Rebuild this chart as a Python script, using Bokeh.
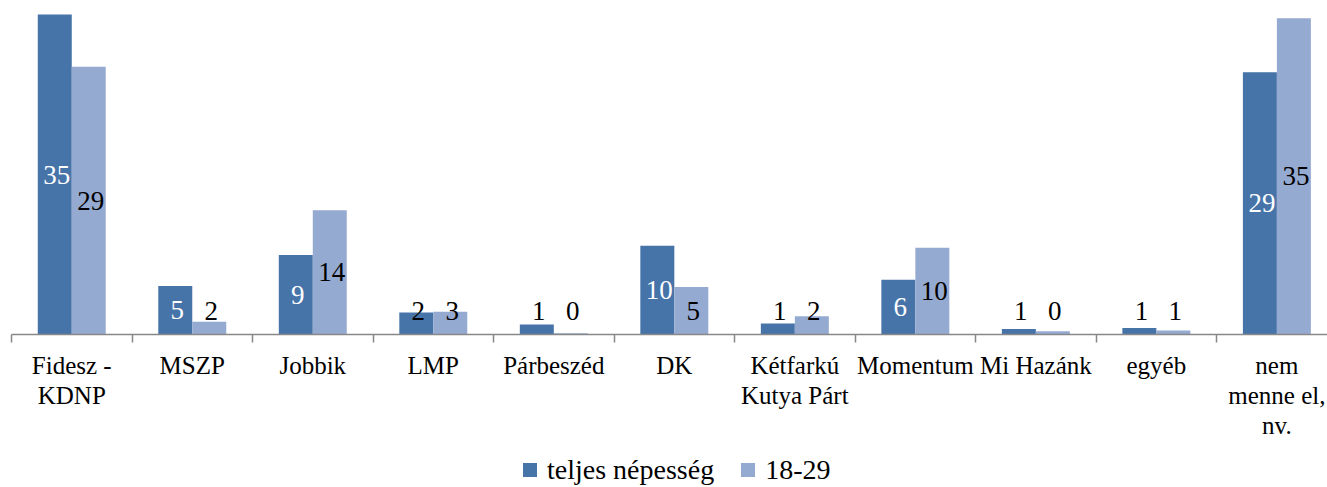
from bokeh.plotting import figure
from bokeh.layouts import column
from bokeh.models import (ColumnDataSource, Range1d, FixedTicker, Legend, LegendItem,
                          CustomJSTickFormatter)
from bokeh.core.properties import value
from bokeh.embed import file_html
from bokeh.resources import INLINE

categories = ["Fidesz -\nKDNP", "MSZP", "Jobbik", "LMP", "Párbeszéd", "DK",
              "Kétfarkú\nKutya Párt", "Momentum", "Mi Hazánk", "egyéb",
              "nem\nmenne el,\nnv."]
series_names = ["teljes népesség", "18-29"]
teljes = [35.0, 5.3, 8.7, 2.4, 1.1, 9.7, 1.2, 6.0, 0.6, 0.7, 28.7]
fiatal = [29.3, 1.4, 13.6, 2.5, 0.15, 5.2, 2.0, 9.5, 0.35, 0.45, 34.6]
teljes_labels = ["35", "5", "9", "2", "1", "10", "1", "6", "1", "1", "29"]
fiatal_labels = ["29", "2", "14", "3", "0", "5", "2", "10", "0", "1", "35"]

DARK = "#4673A8"
LIGHT = "#95AAD0"
FONT = "'Liberation Serif', 'DejaVu Serif', serif"
BW = 0.282
MIN_LABEL = 2.55

n = len(categories)
centers = [i + 0.5 for i in range(n)]
bounds = [float(i) for i in range(n + 1)]

p = figure(frame_width=1316, frame_height=326, x_range=Range1d(0, 10.92),
           y_range=Range1d(0, 35.66), y_axis_location=None,
           output_backend="svg", toolbar_location=None,
           min_border=0, min_border_left=11, min_border_top=8,
           min_border_bottom=118)
p.xgrid.visible = False
p.ygrid.visible = False
p.outline_line_color = None

xd = [c - BW / 2 for c in centers]
xl = [c + BW / 2 for c in centers]
src = ColumnDataSource(dict(xd=xd, xl=xl, teljes=teljes, fiatal=fiatal))
r1 = p.vbar(x="xd", top="teljes", width=BW, bottom=0, source=src,
            fill_color=DARK, line_color=None)
r2 = p.vbar(x="xl", top="fiatal", width=BW, bottom=0, source=src,
            fill_color=LIGHT, line_color=None)

lab = ColumnDataSource(dict(
    x=xd + xl,
    y=[max(v / 2, MIN_LABEL) for v in teljes] + [max(v / 2, MIN_LABEL) for v in fiatal],
    text=teljes_labels + fiatal_labels,
    color=["white" if v / 2 >= MIN_LABEL else "black" for v in teljes] + ["black"] * n,
))
p.text(x="x", y="y", text="text", source=lab, text_color="color",
       text_font=value(FONT), text_font_size="27px", text_align="center",
       text_baseline="middle", x_offset=2)

ax = p.xaxis[0]
ax.ticker = FixedTicker(ticks=centers, minor_ticks=bounds)
ax.formatter = CustomJSTickFormatter(args=dict(labels=categories),
                                     code="return labels[Math.floor(tick)];")
ax.major_tick_line_color = None
ax.major_tick_out = 0
ax.major_tick_in = 0
ax.minor_tick_line_color = "#888888"
ax.minor_tick_line_width = 1.5
ax.minor_tick_out = 8
ax.minor_tick_in = 0
ax.axis_line_color = "#888888"
ax.axis_line_width = 1.5
ax.major_label_text_font = FONT
ax.major_label_text_font_size = "25px"
ax.major_label_text_line_height = 1.12
ax.major_label_text_color = "black"
ax.major_label_standoff = 9

# legend strip below the chart (hidden copies of the same series)
p2 = figure(width=1327, height=35, x_range=Range1d(0, 1), y_range=Range1d(0, 1),
            x_axis_location=None, y_axis_location=None,
            output_backend="svg", toolbar_location=None, min_border=0)
p2.xgrid.visible = False
p2.ygrid.visible = False
p2.outline_line_color = None
h1 = p2.scatter(x="xd", y="teljes", marker="square", size=14, source=src,
                fill_color=DARK, line_color=None, visible=False)
h2 = p2.scatter(x="xl", y="fiatal", marker="square", size=14, source=src,
                fill_color=LIGHT, line_color=None, visible=False)
legend = Legend(items=[LegendItem(label=series_names[0], renderers=[h1]),
                       LegendItem(label=series_names[1], renderers=[h2])],
                orientation="horizontal", location=(501, 0),
                label_text_font=FONT, label_text_font_size="28px",
                label_text_color="black",
                glyph_width=35, glyph_height=35, spacing=16, label_standoff=0,
                border_line_color=None, background_fill_alpha=0,
                padding=0, margin=0)
p2.add_layout(legend)

open("out.html", "w").write(file_html(column(p, p2, spacing=0), INLINE))
